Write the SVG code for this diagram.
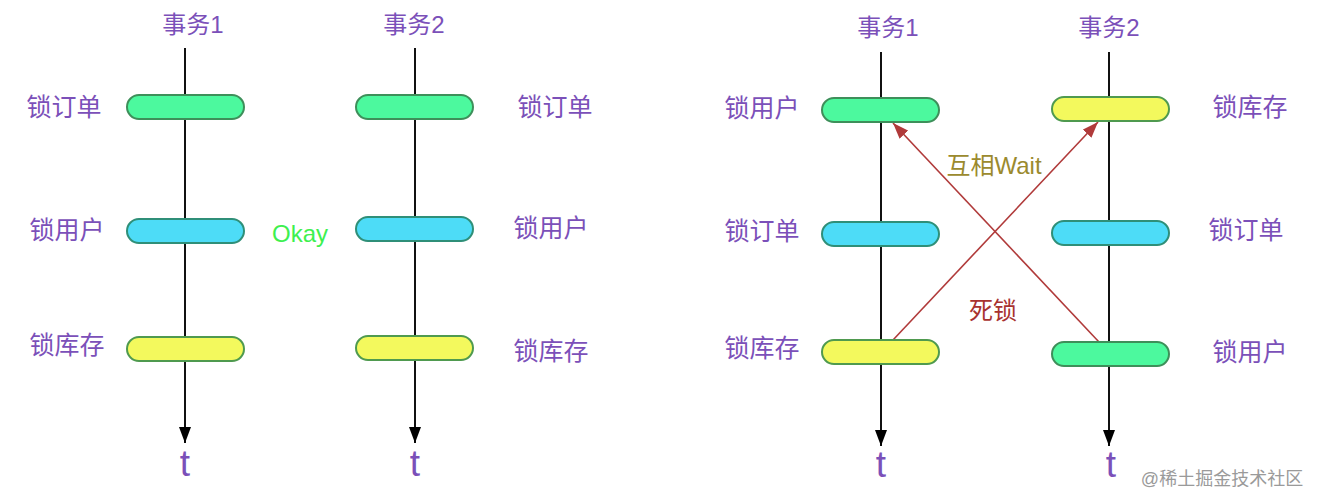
<svg xmlns="http://www.w3.org/2000/svg" width="1320" height="504" viewBox="0 0 1320 504">
<style>
text{font-family:"Liberation Sans","Noto Sans CJK SC",sans-serif;text-anchor:middle}
.hd{font-size:24px;fill:#7b50b9}
.lbl{font-size:25px;fill:#7b50b9}
.t{font-size:37px;fill:#7b50b9}
.tl{stroke:#111;stroke-width:2;fill:none}
.red{stroke:#b03a3a;stroke-width:1.6;fill:none}
.g{fill:#4cf99e;stroke:#3e8f5a;stroke-width:2}
.b{fill:#4ddcf7;stroke:#2f8f78;stroke-width:2}
.y{fill:#f3f95d;stroke:#4f9a4f;stroke-width:2}
</style>
<defs>
<marker id="blk" markerUnits="userSpaceOnUse" markerWidth="16" markerHeight="14" viewBox="0 0 16 14" refX="16" refY="7" orient="auto">
<path d="M0,1 L16,7 L0,13 Z" fill="#000"/>
</marker>
<marker id="rd" markerUnits="userSpaceOnUse" markerWidth="16" markerHeight="12" viewBox="0 0 16 12" refX="16" refY="6" orient="auto">
<path d="M0,0 L16,6 L0,12 Z" fill="#b03a3a"/>
</marker>
</defs>
<rect width="1320" height="504" fill="#fff"/>
<g id="connectors">
<line class="tl" x1="185" y1="48" x2="185" y2="443" marker-end="url(#blk)"/>
<line class="tl" x1="415" y1="48" x2="415" y2="443" marker-end="url(#blk)"/>
<line class="tl" x1="881" y1="52" x2="881" y2="446" marker-end="url(#blk)"/>
<line class="tl" x1="1109" y1="52" x2="1109" y2="446" marker-end="url(#blk)"/>
<line class="red" x1="893" y1="340" x2="1098" y2="122" marker-end="url(#rd)"/>
<line class="red" x1="1099" y1="342" x2="893" y2="123" marker-end="url(#rd)"/>
</g>
<g id="left-tx1">
<text class="hd" x="193" y="33">事务1</text>
<rect id="l1-order" class="g" x="127" y="95" width="117" height="24" rx="12"/>
<rect id="l1-user" class="b" x="127" y="219" width="117" height="24" rx="12"/>
<rect id="l1-stock" class="y" x="127" y="337" width="117" height="24" rx="12"/>
<text class="lbl" x="64" y="116">锁订单</text>
<text class="lbl" x="67" y="239">锁用户</text>
<text class="lbl" x="67" y="354">锁库存</text>
<text class="t" x="185" y="476">t</text>
</g>
<g id="left-tx2">
<text class="hd" x="414" y="33">事务2</text>
<rect id="l2-order" class="g" x="356" y="95" width="117" height="24" rx="12"/>
<rect id="l2-user" class="b" x="356" y="217" width="117" height="24" rx="12"/>
<rect id="l2-stock" class="y" x="356" y="336" width="117" height="24" rx="12"/>
<text class="lbl" x="555" y="116">锁订单</text>
<text class="lbl" x="551" y="237">锁用户</text>
<text class="lbl" x="551" y="360">锁库存</text>
<text class="t" x="415" y="476">t</text>
</g>
<g id="okay">
<text x="300" y="242" style="font-size:24px;fill:#3ef04f">Okay</text>
</g>
<g id="right-tx1">
<text class="hd" x="888" y="36">事务1</text>
<rect id="r1-user" class="g" x="822" y="98" width="117" height="24" rx="12"/>
<rect id="r1-order" class="b" x="822" y="222" width="117" height="24" rx="12"/>
<rect id="r1-stock" class="y" x="822" y="340" width="117" height="24" rx="12"/>
<text class="lbl" x="762" y="117">锁用户</text>
<text class="lbl" x="762" y="240">锁订单</text>
<text class="lbl" x="762" y="357">锁库存</text>
<text class="t" x="881" y="477">t</text>
</g>
<g id="right-tx2">
<text class="hd" x="1109" y="36">事务2</text>
<rect id="r2-stock" class="y" x="1052" y="97" width="117" height="24" rx="12"/>
<rect id="r2-order" class="b" x="1052" y="221" width="117" height="24" rx="12"/>
<rect id="r2-user" class="g" x="1052" y="342" width="117" height="24" rx="12"/>
<text class="lbl" x="1250" y="116">锁库存</text>
<text class="lbl" x="1246" y="239">锁订单</text>
<text class="lbl" x="1250" y="361">锁用户</text>
<text class="t" x="1111" y="477">t</text>
</g>
<g id="labels">
<text x="994" y="174" style="font-size:24px;fill:#9b8a2e">互相Wait</text>
<text x="993" y="319" style="font-size:24px;fill:#a8322f">死锁</text>
<text x="1222" y="485" style="font-size:18px;fill:#9a9a9a">@稀土掘金技术社区</text>
</g>
</svg>
